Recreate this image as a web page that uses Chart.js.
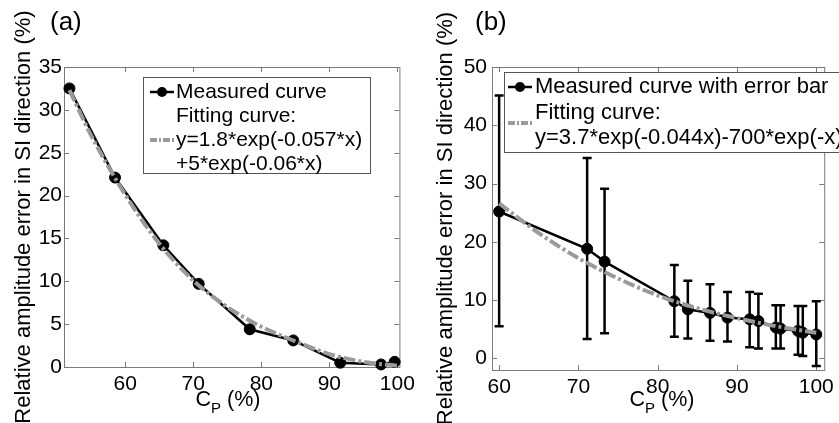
<!DOCTYPE html>
<html>
<head>
<meta charset="utf-8">
<script src="https://cdn.jsdelivr.net/npm/chart.js@4.4.1/dist/chart.umd.min.js"></script>
<style>
  body { margin: 0; background: #fff; width: 839px; height: 423px; position: relative; overflow: hidden;
         font-family: "Liberation Sans", Arial, sans-serif; color: #000; }
  canvas { position: absolute; top: 0; }
  #ca { left: 0; }
  #cb { left: 420px; }
  .panel { position: absolute; top: 8px; font-size: 26px; line-height: 26px; }
  .xt { position: absolute; top: 389px; font-size: 21.5px; line-height: 21px; white-space: nowrap; transform: translateX(-50%); }
  .xt sub { font-size: 15px; vertical-align: -7px; line-height: 0; }
</style>
</head>
<body>
<canvas id="ca" width="420" height="423"></canvas>
<canvas id="cb" width="419" height="423"></canvas>
<div class="panel" style="left:50px">(a)</div>
<div class="panel" style="left:475px">(b)</div>
<div class="xt" style="left:228px">C<sub>P</sub> (%)</div>
<div class="xt" style="left:662px">C<sub>P</sub> (%)</div>
<script>
// panel (a)
const measXA = [51.8, 58.5, 65.6, 70.8, 78.3, 84.7, 91.6, 97.6, 99.6];
const measYA = [32.5, 22.1, 14.2, 9.7, 4.4, 3.1, 0.5, 0.3, 0.6];
const fitXA = [51.8, 55, 60, 65, 70, 75, 80, 85, 90, 95, 100];
const fitYA = [32.3, 27.0, 20.1, 14.4, 10.1, 7.0, 4.7, 3.0, 1.5, 0.6, 0.15];
const xTicksA = [60, 70, 80, 90, 100];
const yTicksA = [0, 5, 10, 15, 20, 25, 30, 35];
const legendA = ['Measured curve', 'Fitting curve:', 'y=1.8*exp(-0.057*x)', '+5*exp(-0.06*x)'];

// panel (b)
const measXB = [60, 71.1, 73.3, 82.1, 83.8, 86.6, 88.8, 91.6, 92.7, 94.9, 95.5, 97.7, 98.3, 100];
const measYB = [25.2, 18.8, 16.6, 9.8, 8.4, 7.8, 7.0, 6.7, 6.4, 5.3, 5.1, 4.7, 4.4, 4.1];
const errLoB = [5.5, 3.3, 4.3, 3.7, 3.4, 3.0, 2.9, 1.9, 1.7, 1.7, 1.7, 0.6, 0.4, -1.3];
const errHiB = [45.1, 34.4, 29.1, 16.0, 13.3, 12.7, 11.4, 11.4, 11.1, 9.1, 9.1, 9.0, 9.0, 9.8];
const fitXB = [60, 65, 70, 75, 80, 85, 90, 95, 100];
const fitYB = [26.6, 21.5, 17.2, 13.7, 10.8, 8.6, 6.9, 5.5, 4.4];
const xTicksB = [60, 70, 80, 90, 100];
const yTicksB = [0, 10, 20, 30, 40, 50];
const legendB = ['Measured curve with error bar', 'Fitting curve:', 'y=3.7*exp(-0.044x)-700*exp(-x)'];

Chart.defaults.font.family = '"Liberation Sans", Arial, sans-serif';
Chart.defaults.font.size = 21;
Chart.defaults.color = '#000';

const pts = (xs, ys) => xs.map((x, i) => ({ x: x, y: ys[i] }));

// matlab style box with inward ticks (+ error bars for b)
const framePlugin = {
  id: 'frame',
  beforeDatasetsDraw(chart) {
    const { ctx, chartArea: a, scales } = chart;
    ctx.save();
    ctx.strokeStyle = '#7a7a7a';
    ctx.lineWidth = 1;
    ctx.strokeRect(a.left + 0.5, a.top + 0.5, a.right - a.left, a.bottom - a.top);
    ctx.beginPath();
    scales.x.ticks.forEach(t => {
      const px = Math.round(scales.x.getPixelForValue(t.value)) + 0.5;
      ctx.moveTo(px, a.bottom); ctx.lineTo(px, a.bottom - 5);
      ctx.moveTo(px, a.top); ctx.lineTo(px, a.top + 5);
    });
    scales.y.ticks.forEach(t => {
      const py = Math.round(scales.y.getPixelForValue(t.value)) + 0.5;
      ctx.moveTo(a.left, py); ctx.lineTo(a.left + 5, py);
      ctx.moveTo(a.right, py); ctx.lineTo(a.right - 5, py);
    });
    ctx.stroke();

    const eb = chart.options.plugins.errorBars;
    if (eb) {
      ctx.strokeStyle = '#000';
      ctx.lineWidth = 2.5;
      ctx.beginPath();
      eb.x.forEach((x, i) => {
        const px = scales.x.getPixelForValue(x);
        const lo = scales.y.getPixelForValue(eb.lo[i]);
        const hi = scales.y.getPixelForValue(eb.hi[i]);
        ctx.moveTo(px, lo); ctx.lineTo(px, hi);
        ctx.moveTo(px - 4.5, lo); ctx.lineTo(px + 4.5, lo);
        ctx.moveTo(px - 4.5, hi); ctx.lineTo(px + 4.5, hi);
      });
      ctx.stroke();
    }
    ctx.restore();
  }
};

const boxLegend = {
  id: 'boxLegend',
  afterDraw(chart) {
    const o = chart.options.plugins.boxLegend;
    if (!o) return;
    const ctx = chart.ctx;
    ctx.save();
    ctx.fillStyle = '#fff';
    ctx.strokeStyle = '#555';
    ctx.lineWidth = 1;
    ctx.fillRect(o.box[0], o.box[1], o.box[2], o.box[3]);
    ctx.strokeRect(o.box[0] + 0.5, o.box[1] + 0.5, o.box[2], o.box[3]);
    // measured sample
    ctx.strokeStyle = '#000';
    ctx.lineWidth = 2.5;
    ctx.beginPath();
    ctx.moveTo(o.sx, o.rows[0]); ctx.lineTo(o.sx + 24, o.rows[0]);
    ctx.stroke();
    ctx.fillStyle = '#000';
    ctx.beginPath();
    ctx.arc(o.sx + 12, o.rows[0], 5, 0, Math.PI * 2);
    ctx.fill();
    // fit sample
    ctx.strokeStyle = '#9a9a9a';
    ctx.lineWidth = 4;
    ctx.setLineDash([7, 2, 2, 2]);
    ctx.beginPath();
    ctx.moveTo(o.sx, o.fitY); ctx.lineTo(o.sx + 24, o.fitY);
    ctx.stroke();
    ctx.setLineDash([]);
    ctx.fillStyle = '#000';
    ctx.font = o.font + 'px "Liberation Sans", Arial, sans-serif';
    ctx.textBaseline = 'middle';
    o.text.forEach((s, i) => ctx.fillText(s, o.tx, o.rows[i]));
    ctx.restore();
  }
};

function makeChart(id, c) {
  return new Chart(document.getElementById(id), {
    type: 'line',
    data: {
      datasets: [
        {
          data: pts(c.fitX, c.fitY), order: 0, clip: false,
          borderColor: '#9a9a9a', borderWidth: 4, borderDash: [12, 3, 3, 3],
          pointRadius: 0, cubicInterpolationMode: 'monotone'
        },
        {
          data: pts(c.measX, c.measY), order: 1, clip: false,
          borderColor: '#000', borderWidth: 2.5, tension: 0,
          pointRadius: 5.5, pointBackgroundColor: '#000', pointBorderColor: '#000', pointBorderWidth: 1
        }
      ]
    },
    options: {
      responsive: false,
      animation: false,
      devicePixelRatio: 1,
      layout: { padding: c.pad },
      plugins: {
        legend: { display: false },
        tooltip: { enabled: false },
        boxLegend: c.legend,
        errorBars: c.err || null
      },
      scales: {
        x: {
          type: 'linear', min: c.xr[0], max: c.xr[1],
          grid: { display: false, drawTicks: false },
          border: { display: false },
          ticks: { padding: 5, maxRotation: 0 },
          afterBuildTicks: s => { s.ticks = c.xTicks.map(v => ({ value: v })); },
          afterFit: s => { s.height = c.xh; }
        },
        y: {
          type: 'linear', min: c.yr[0], max: c.yr[1],
          grid: { display: false, drawTicks: false },
          border: { display: false },
          ticks: { padding: c.tickPad },
          afterBuildTicks: s => { s.ticks = c.yTicks.map(v => ({ value: v })); },
          afterFit: s => { s.width = c.yw; },
          title: {
            display: true, text: 'Relative amplitude error in SI direction (%)',
            font: { size: 22 }, padding: { top: c.titlePad, bottom: 0 }
          }
        }
      }
    },
    plugins: [framePlugin, boxLegend]
  });
}

makeChart('ca', {
  fitX: fitXA, fitY: fitYA, measX: measXA, measY: measYA,
  xTicks: xTicksA, yTicks: yTicksA, xr: [51, 100.3], yr: [0, 35],
  pad: { left: 0, right: 17, top: 67, bottom: 0 }, xh: 56, yw: 64, titlePad: 11, tickPad: 2,
  legend: { box: [143, 77, 227, 96], rows: [92, 116, 140, 164], text: legendA, tx: 176, sx: 150, fitY: 140, font: 21 }
});

makeChart('cb', {
  fitX: fitXB, fitY: fitYB, measX: measXB, measY: measYB,
  xTicks: xTicksB, yTicks: yTicksB, xr: [59.1, 101], yr: [-2, 50],
  pad: { left: 0, right: 9, top: 67, bottom: 0 }, xh: 53, yw: 72, titlePad: 13, tickPad: 5,
  err: { x: measXB, lo: errLoB, hi: errHiB },
  legend: { box: [84, 72, 340, 80], rows: [87, 113, 138], text: legendB, tx: 115, sx: 88, fitY: 123, font: 22 }
});
</script>
</body>
</html>
